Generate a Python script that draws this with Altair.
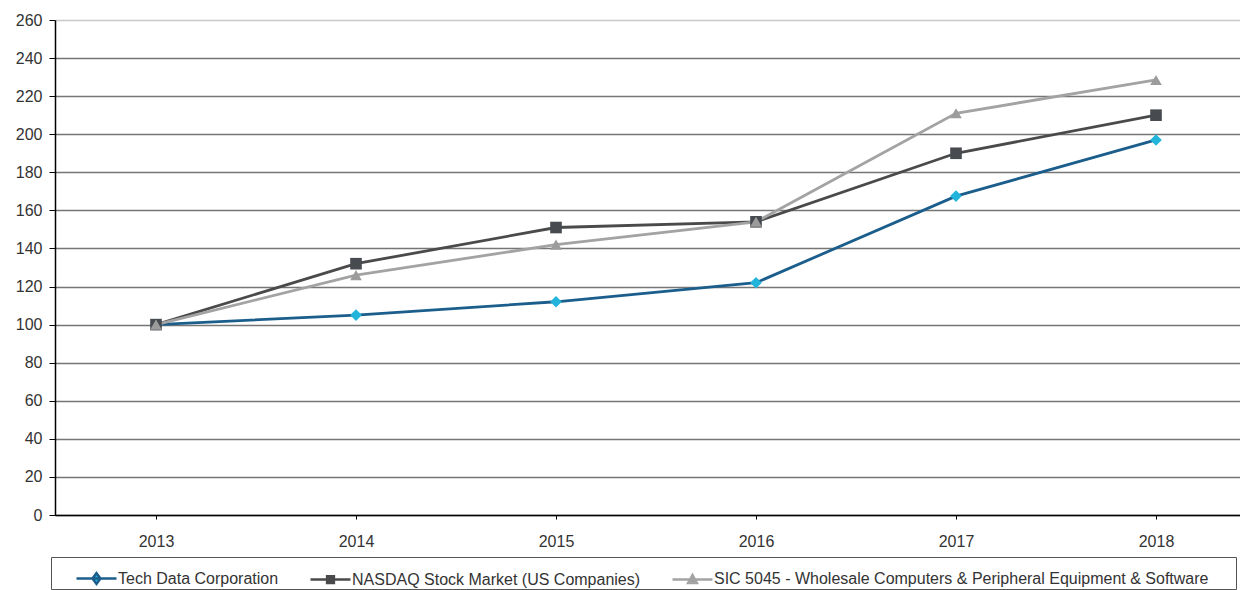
import altair as alt
import pandas as pd

years = [2013, 2014, 2015, 2016, 2017, 2018]
series_names = [
    "Tech Data Corporation",
    "NASDAQ Stock Market (US Companies)",
    "SIC 5045 - Wholesale Computers & Peripheral Equipment & Software",
]
tech_data = [100, 105, 112, 122, 167.5, 197]
nasdaq = [100, 132, 151, 154, 190, 210]
sic5045 = [100, 126, 142, 154, 211, 228.5]
y_ticks = list(range(0, 261, 20))

line_colors = ["#1b5e8c", "#4a4a4a", "#a3a3a3"]
marker_colors = ["#22b4da", "#474b50", "#9c9c9c"]
marker_shapes = ["diamond", "square", "triangle-up"]
legend_paths = [
    "M-1,0L1,0M0,-0.27L0.2,0L0,0.27L-0.2,0Z",
    "M-1,0L1,0M-0.17,-0.17L0.17,-0.17L0.17,0.17L-0.17,0.17Z",
    "M-1,0L1,0M0,-0.22L0.22,0.18L-0.22,0.18Z",
]

rows = []
for name, vals in zip(series_names, [tech_data, nasdaq, sic5045]):
    for yr, v in zip(years, vals):
        rows.append({"year": yr, "value": v, "series": name})
df = pd.DataFrame(rows)

FONT = "Liberation Sans"

x_enc = alt.X(
    "year:Q",
    scale=alt.Scale(domain=[2012.495, 2018.42], nice=False, zero=False),
    axis=alt.Axis(
        values=years, format="d", grid=False, title=None,
        domainColor="#000000", domainWidth=1.5,
        tickColor="#000000", tickSize=4, tickWidth=1,
        labelFontSize=16, labelColor="#333333", labelFont=FONT,
        labelPadding=14,
    ),
)
y_enc = alt.Y(
    "value:Q",
    scale=alt.Scale(domain=[0, 260], nice=False, zero=True),
    axis=alt.Axis(
        values=y_ticks, title=None,
        domainColor="#000000", domainWidth=1.5,
        tickColor="#000000", tickSize=6, tickWidth=1,
        grid=True, gridWidth=1.5,
        gridColor={"condition": {"test": "datum.value === 260", "value": "#c8c8c8"},
                   "value": "#767676"},
        labelFontSize=16, labelColor="#333333", labelFont=FONT,
        labelPadding=7,
    ),
)

base = alt.Chart(df)

lines = base.mark_line(strokeWidth=2.8).encode(
    x=x_enc, y=y_enc,
    color=alt.Color("series:N", sort=series_names,
                    scale=alt.Scale(domain=series_names, range=line_colors),
                    legend=None),
    order=alt.Order("year:Q"),
)

points = base.mark_point(filled=True, opacity=1, size=135).encode(
    x=x_enc, y=y_enc,
    fill=alt.Fill("series:N", scale=alt.Scale(domain=series_names, range=marker_colors),
                  legend=None),
    shape=alt.Shape("series:N", scale=alt.Scale(domain=series_names, range=marker_shapes),
                    legend=None),
)

pad = "\u00a0" * 6 + "\u200b"
label_expr = "datum.label + '%s'" % pad

legend_def = alt.Legend(
    title="\u00a0\u200b", titleOrient="left", titlePadding=24, titleFontSize=16, titleFont=FONT,
    orient="none", legendX=-4, legendY=537, direction="horizontal",
    symbolSize=1600, symbolStrokeWidth=2.5, labelOffset=0, columnPadding=0,
    labelFontSize=16, labelFont=FONT, labelColor="#333333", labelLimit=1000,
    labelExpr=label_expr,
    strokeColor="#555555", padding=0, offset=0,
)

legend_layer = base.transform_filter("false").mark_point(filled=True, opacity=1, strokeWidth=2.5).encode(
    x=x_enc, y=y_enc,
    stroke=alt.Stroke("series:N", scale=alt.Scale(domain=series_names, range=line_colors),
                      legend=legend_def),
    fill=alt.Fill("series:N", scale=alt.Scale(domain=series_names, range=marker_colors),
                  legend=legend_def),
    shape=alt.Shape("series:N", scale=alt.Scale(domain=series_names, range=legend_paths),
                    legend=legend_def),
)

chart = (
    alt.layer(lines, points, legend_layer)
    .resolve_scale(fill="independent", shape="independent", stroke="independent", color="independent")
    .properties(width=1185, height=495, padding={"left": 7, "top": 4, "right": 0, "bottom": 5},
                background="#ffffff")
    .configure_view(strokeWidth=0)
)

chart.save("out.html", embed_options={"renderer": "svg", "actions": False})
